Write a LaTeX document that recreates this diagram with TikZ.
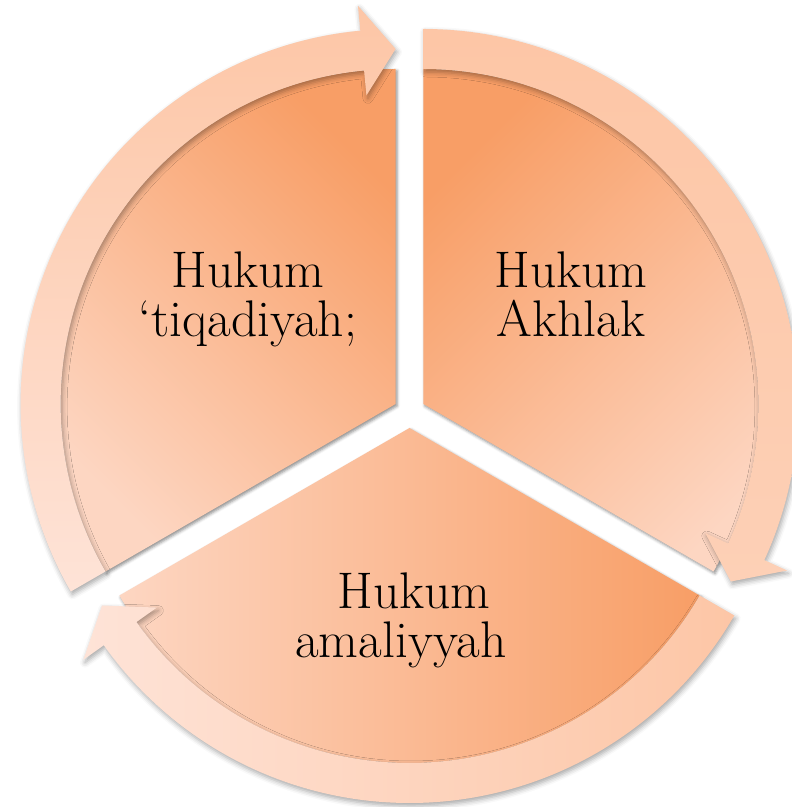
\documentclass[tikz,border=0pt]{standalone}
\usetikzlibrary{shadows.blur}
\definecolor{secDark}{HTML}{F89E66}
\definecolor{secLight}{HTML}{FDD6C2}
\definecolor{bandDark}{HTML}{FDC6A6}
\definecolor{bandLight}{HTML}{FEE3D7}
\definecolor{bandMid}{HTML}{FDD0B6}
\begin{document}
\begin{tikzpicture}[x=1bp,y=1bp,
  sectorshape/.style={blur shadow={shadow xshift=1.5bp, shadow yshift=-2bp, shadow blur radius=3bp, shadow opacity=45}},
  bandshape/.style={blur shadow={shadow xshift=1.5bp, shadow yshift=-3bp, shadow blur radius=5bp, shadow opacity=35}},
  segtext/.style={font=\fontsize{51.5bp}{49bp}\selectfont, align=center, text=black, inner sep=0pt}]
\useasboundingbox (0,0) rectangle (792,807);
\coordinate (L) at (395.6,403);
\coordinate (R) at (423.4,403);
\coordinate (B) at (409.5,379);

% sectors
\begin{scope}[shift={(L)}]
  \path[sectorshape, top color=secDark, bottom color=secLight, shading angle=-45]
    (0,0) -- (90:335) arc[start angle=90, end angle=210, radius=335] -- cycle;
\end{scope}
\begin{scope}[shift={(R)}]
  \path[sectorshape, top color=secDark, bottom color=secLight, shading angle=45]
    (0,0) -- (-30:335) arc[start angle=-30, end angle=90, radius=335] -- cycle;
\end{scope}
\begin{scope}[shift={(B)}]
  \path[sectorshape, left color=secLight, right color=secDark]
    (0,0) -- (210:335) arc[start angle=210, end angle=330, radius=335] -- cycle;
\end{scope}

% circular arrows
\begin{scope}[shift={(L)}]
  \path[bandshape, top color=bandDark, bottom color=bandLight]
    (210:375) arc[start angle=210, end angle=95.4, radius=375]
    -- (95.4:400) -- (90:355) -- (95.4:310) -- (95.4:335)
    arc[start angle=95.4, end angle=210, radius=335] -- cycle;
\end{scope}
\begin{scope}[shift={(R)}]
  \path[bandshape, top color=bandDark, bottom color=bandMid]
    (90:375) arc[start angle=90, end angle=-24.6, radius=375]
    -- (-24.6:400) -- (-30:355) -- (-24.6:310) -- (-24.6:335)
    arc[start angle=-24.6, end angle=90, radius=335] -- cycle;
\end{scope}
\begin{scope}[shift={(B)}]
  \path[bandshape, left color=bandLight, right color=bandDark]
    (330:375) arc[start angle=330, end angle=215.4, radius=375]
    -- (215.4:400) -- (210:355) -- (215.4:310) -- (215.4:335)
    arc[start angle=215.4, end angle=330, radius=335] -- cycle;
\end{scope}

% texts (base = baseline of the last line)
\node[segtext, anchor=base] (tleft) at (248,470) {Hukum\\‘tiqadiyah;};
\node[segtext, anchor=base] (tright) at (571,470) {Hukum\\Akhlak};
\node[segtext, anchor=base] (tbottom) at (401,149) {\hspace*{26bp}Hukum\\amaliyyah};
\end{tikzpicture}
\end{document}
